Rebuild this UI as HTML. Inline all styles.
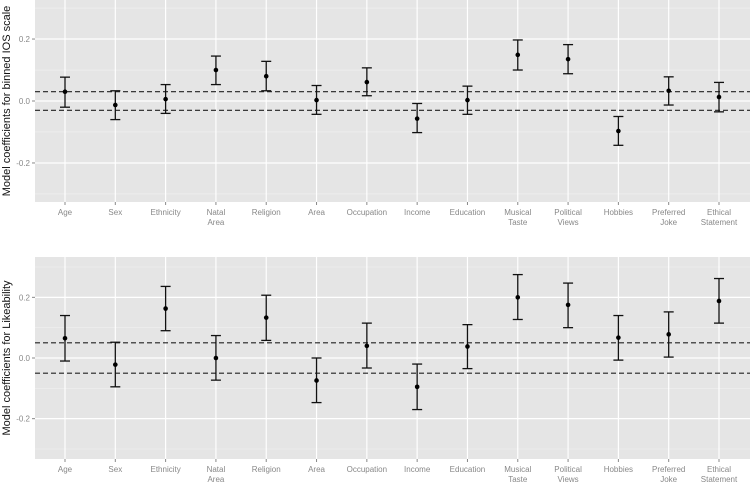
<!DOCTYPE html>
<html><head><meta charset="utf-8"><style>
html,body{margin:0;padding:0;background:#fff;width:750px;height:482px;overflow:hidden}
svg text{font-family:"Liberation Sans",sans-serif}
</style></head><body>
<svg id="c" width="750" height="482"></svg>
<script>
const categories=["Age","Sex","Ethnicity","Natal|Area","Religion","Area","Occupation","Income","Education","Musical|Taste","Political|Views","Hobbies","Preferred|Joke","Ethical|Statement"];
const iosEst=[0.03,-0.013,0.006,0.1,0.08,0.003,0.061,-0.057,0.003,0.149,0.135,-0.097,0.033,0.013];
const iosHi=[0.077,0.033,0.053,0.145,0.128,0.05,0.107,-0.008,0.048,0.197,0.182,-0.05,0.078,0.06];
const iosLo=[-0.02,-0.06,-0.04,0.053,0.033,-0.043,0.017,-0.102,-0.043,0.1,0.088,-0.143,-0.013,-0.035];
const iosRef=[0.03,-0.03];
const likEst=[0.065,-0.022,0.163,0,0.133,-0.074,0.04,-0.095,0.038,0.2,0.175,0.067,0.078,0.188];
const likHi=[0.14,0.052,0.236,0.074,0.207,0,0.115,-0.02,0.11,0.275,0.247,0.14,0.152,0.262];
const likLo=[-0.01,-0.095,0.09,-0.073,0.058,-0.147,-0.033,-0.17,-0.035,0.127,0.1,-0.007,0.003,0.115];
const likRef=[0.05,-0.05];
const yTicks=[-0.2,0.0,0.2];
const yTickLabels=["-0.2","0.0","0.2"];
const NS="http://www.w3.org/2000/svg";
const svg=document.getElementById('c');
function mk(t,a,p){const e=document.createElementNS(NS,t);for(const k in a)e.setAttribute(k,a[k]);(p||svg).appendChild(e);return e;}
function panel(name,top,bottom,ymax,ymin,est,hi,lo,ref,title){
  const L=35,R=750;
  const g=mk('g',{});
  
  
  const y=v=>top+(ymax-v)/(ymax-ymin)*(bottom-top);
  const x=i=>L+30+i*(R-L-31-30)/(categories.length-1);
  const bg=mk('rect',{x:L,y:top,width:R-L,height:bottom-top,fill:'#e5e5e5'},g);
  
  
  for(let v=-0.3;v<=0.31;v+=0.2){mk('line',{x1:L,x2:R,y1:y(v),y2:y(v),stroke:'#f0f0f0','stroke-width':0.6},g);}
  yTicks.forEach((v,i)=>{
    mk('line',{x1:L,x2:R,y1:y(v),y2:y(v),stroke:'#fff','stroke-width':1.2},g);
    mk('line',{x1:L-3,x2:L,y1:y(v),y2:y(v),stroke:'#888'},g);
    const t=mk('text',{x:L-5,y:y(v)+3,'text-anchor':'end','font-size':8,fill:'#888'},g);
    t.textContent=yTickLabels[i];
    
    
  });
  categories.forEach((c,i)=>{
    mk('line',{x1:x(i),x2:x(i),y1:top,y2:bottom,stroke:'#fff','stroke-width':1.2},g);
    mk('line',{x1:x(i),x2:x(i),y1:bottom,y2:bottom+3,stroke:'#888'},g);
    c.split('|').forEach((s,j)=>{
      const t=mk('text',{x:x(i),y:bottom+13+j*10,'text-anchor':'middle','font-size':8,fill:'#888'},g);
      t.textContent=s;
      
      
    });
  });
  ref.forEach(v=>{
    const l=mk('line',{x1:L,x2:R,y1:y(v),y2:y(v),stroke:'#222','stroke-width':1.2,'stroke-dasharray':'5,3'},g);
    
    
  });
  categories.forEach((c,i)=>{
    const eg=mk('g',{stroke:'#111','stroke-width':1.3},g);
    
    
    mk('line',{x1:x(i),x2:x(i),y1:y(hi[i]),y2:y(lo[i])},eg);
    mk('line',{x1:x(i)-5,x2:x(i)+5,y1:y(hi[i]),y2:y(hi[i])},eg);
    mk('line',{x1:x(i)-5,x2:x(i)+5,y1:y(lo[i]),y2:y(lo[i])},eg);
    const p=mk('circle',{cx:x(i),cy:y(est[i]),r:2.3,fill:'#000'},g);
    
    
  });
  const cy=(top+bottom)/2;
  const t=mk('text',{x:10,y:cy,'text-anchor':'middle','font-size':11,fill:'#111',transform:`rotate(-90 10 ${cy})`},g);
  t.textContent=title;
  
  
}
panel('ios-panel',0,202,0.326,-0.326,iosEst,iosHi,iosLo,iosRef,'Model coefficients for binned IOS scale');
panel('likeability-panel',257,459,0.333,-0.333,likEst,likHi,likLo,likRef,'Model coefficients for Likeability');
</script>
</body></html>
